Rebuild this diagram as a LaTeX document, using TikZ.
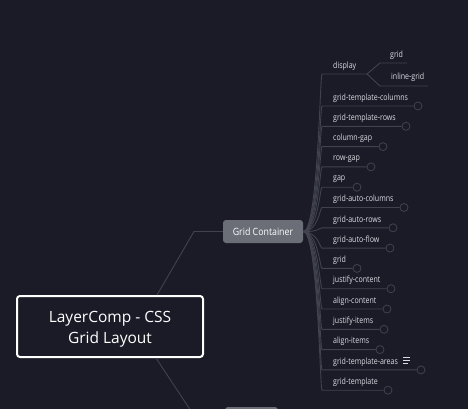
\documentclass[tikz,border=0pt]{standalone}
\usepackage{fontspec}
\setmainfont{Open Sans}
\newfontfamily\itemfont[FakeStretch=0.82]{Open Sans}
\newfontfamily\boxfont[FakeStretch=0.88]{Open Sans}
\definecolor{bg}{HTML}{1A1B26}
\definecolor{ln}{HTML}{40424E}
\definecolor{tx}{HTML}{DADBE2}
\definecolor{gcf}{HTML}{6B6D77}
\tikzset{
  conn/.style={draw=ln, line width=0.9pt},
  item/.style={anchor=west, inner sep=0pt, text=tx, font=\itemfont\fontsize{8.6}{10}\selectfont},
  knob/.style={circle, draw=ln, fill=bg, line width=0.8pt, minimum size=8pt, inner sep=0pt},
  mainbox/.style={draw=white, line width=2pt, rounded corners=3pt, fill=bg, inner sep=0pt},
  maintext/.style={text=white, align=center, font=\fontsize{15.5}{21}\selectfont, inner sep=0pt},
  subbox/.style={fill=gcf, rounded corners=3pt, text=white, inner sep=0pt,
    font=\boxfont\fontsize{10}{11}\selectfont}
}
\begin{document}
\begin{tikzpicture}[x=1pt,y=-1pt]
\useasboundingbox (0,0) rectangle (468,409);
\fill[bg] (0,0) rectangle (468,409);
\begin{scope}
\clip (0,0) rectangle (468,409);
% bottom partial node
\node[subbox, minimum width=53pt, minimum height=23pt] (nb) at (251.5,418.5) {};
\coordinate (bj) at (196,418.5);
% Grid container
\node[subbox, minimum width=80pt, minimum height=23pt] (gc) at (263,231.5) {Grid Container};
\coordinate (gj) at (194,231.5);
% root
\node[mainbox, minimum width=186pt, minimum height=61pt] (root) at (110,326.5) {};
\node[maintext] (rootlabel) at (110,329) {LayerComp - CSS\\Grid Layout};
\draw[conn] (gc.west) -- (gj) -- (root.north -| 157,0);
\draw[conn] (root.south -| 156,0) -- (bj) -- (nb.west);
% display branch
\coordinate (s0d) at (322,74);
\coordinate (dj) at (367,74);
\node[item] (td) at (333,66) {display};
\draw[conn] (gc.east) .. controls (318,232) and (320,74) .. (s0d) -- (dj);
\coordinate (g1a) at (380,63);
\coordinate (g1b) at (407,63);
\coordinate (g2a) at (380,86);
\coordinate (g2b) at (428,86);
\node[item] (tg1) at (390,55) {grid};
\node[item] (tg2) at (391,77) {inline-grid};
\draw[conn] (dj) -- (g1a) -- (g1b);
\draw[conn] (dj) -- (g2a) -- (g2b);
% children
\foreach \t/\cx [count=\i from 0] in {grid-template-columns/418,grid-template-rows/406,column-gap/383,row-gap/371,gap/357,grid-auto-columns/404,grid-auto-rows/393,grid-auto-flow/390,grid/357,justify-content/391,align-content/387,justify-items/384,align-items/380,grid-template-areas/421,grid-template/388}{
  \pgfmathsetmacro\yy{106+20.3*\i}
  \coordinate (s\i) at (322,\yy);
  \node[item] (t\i) at (333,\yy-8) {\t};
  \node[knob] (c\i) at (\cx,\yy) {};
  \draw[conn] (gc.east) .. controls (318,232) and (320,\yy) .. (s\i) -- (c\i.west);
}
% notes icon
\draw[tx, line width=1pt] (403,357) -- (410,357) (403,360) -- (410,360) (403,363) -- (408,363);
\end{scope}
\end{tikzpicture}
\end{document}
